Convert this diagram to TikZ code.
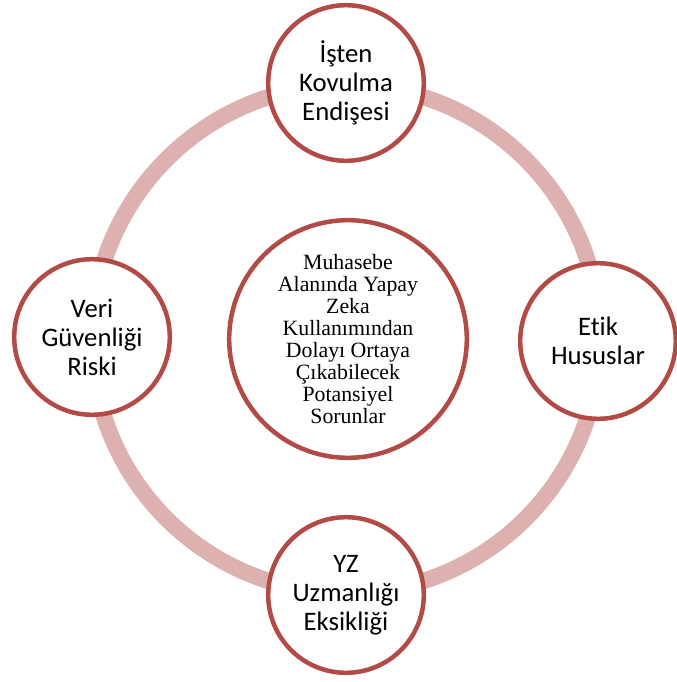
\documentclass[tikz,border=0pt]{standalone}
\usepackage{fontspec}
\setmainfont{Liberation Serif}
\newfontfamily\carlito[Ligatures=NoCommon]{Carlito}
\usepackage{tikz}
\usetikzlibrary{positioning}

\definecolor{ringred}{RGB}{178,74,70}
\definecolor{ringpink}{RGB}{222,177,177}

\begin{document}
\begin{tikzpicture}[every node/.style={align=center},
    issue/.style={circle, draw=ringred, line width=3.2pt, fill=white, inner sep=0pt,
        minimum size=3.89cm, font=\carlito\fontsize{19}{20.6}\selectfont},
    core/.style={circle, draw=ringred, line width=3.2pt, fill=white, inner sep=0pt,
        minimum size=5.94cm, font=\fontsize{15.5}{15.6}\selectfont}]
    \useasboundingbox (-8.65,-8.575) rectangle (8.275,8.475);
    % Ring behind the four issues
    \coordinate (mid) at (0,0);
    \draw[ringpink, line width=0.41cm] (mid) circle (6.35);
    % Centre circle
    \node[core] (main) at (0.05,0)
        {Muhasebe\\Alanında Yapay\\Zeka\\Kullanımından\\Dolayı Ortaya\\Çıkabilecek\\Potansiyel\\Sorunlar};
    % Top circle
    \node[issue] (top) at (0,6.4) {İşten\\Kovulma\\Endişesi};
    % Right circle
    \node[issue] (right) at (6.3,-0.05) {Etik\\Hususlar};
    % Bottom circle
    \node[issue] (bottom) at (0,-6.4) {YZ\\Uzmanlığı\\Eksikliği};
    % Left circle
    \node[issue] (left) at (-6.35,0.05) {Veri\\Güvenliği\\Riski};
\end{tikzpicture}
\end{document}
